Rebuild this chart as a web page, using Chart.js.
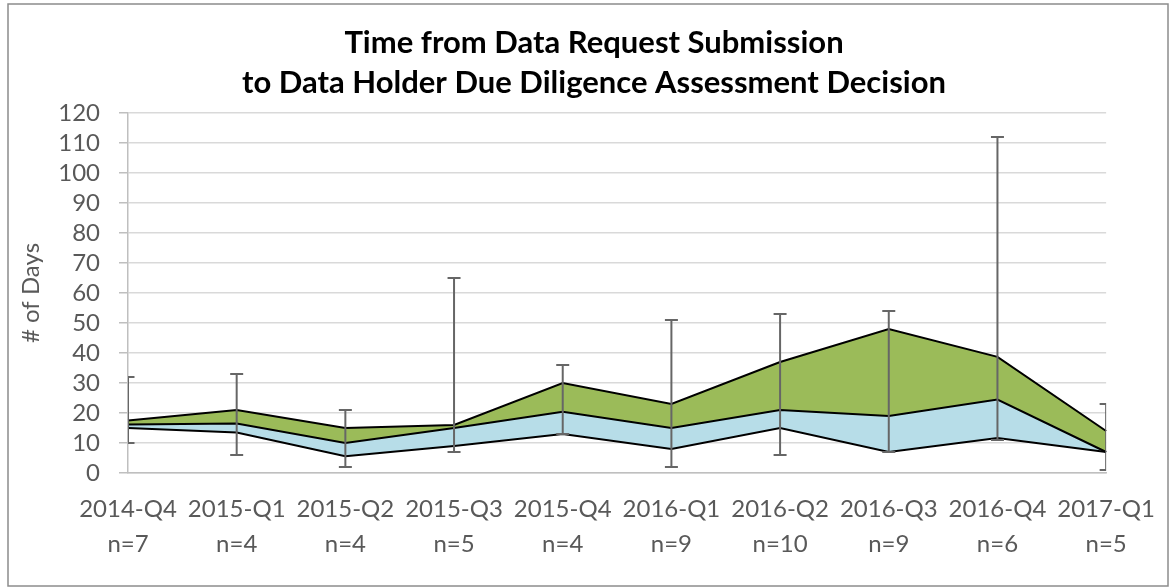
<!DOCTYPE html>
<html>
<head>
<meta charset="utf-8">
<script src="https://cdn.jsdelivr.net/npm/chart.js@4/dist/chart.umd.min.js"></script>
<style>
  html, body { margin: 0; padding: 0; background: #fff; }
  #wrap { width: 1174px; height: 587px; }
</style>
</head>
<body>
<div id="wrap"><canvas id="canvas" width="1174" height="587"></canvas></div>
<script>
const quarters = ["2014-Q4", "2015-Q1", "2015-Q2", "2015-Q3", "2015-Q4", "2016-Q1", "2016-Q2", "2016-Q3", "2016-Q4", "2017-Q1"];
const counts = ["n=7", "n=4", "n=4", "n=5", "n=4", "n=9", "n=10", "n=9", "n=6", "n=5"];

// quartiles per quarter (days)
const q1Days = [15, 13.5, 5.6, 9, 13, 8, 15, 7, 11.7, 7];
const medianDays = [16.2, 16.5, 10, 15, 20.4, 15, 21, 19, 24.5, 7];
const q3Days = [17.5, 21, 15, 16, 30, 23, 37, 48, 38.7, 14];
// whiskers (min / max)
const minDays = [10, 6, 2, 7, 13, 2, 6, 7, 11, 1];
const maxDays = [32, 33, 21, 65, 36, 51, 53, 54, 112, 23];

const titleLines = ["Time from Data Request Submission", "to Data Holder Due Diligence Assessment Decision"];

const fontFamily = "Lato, 'Open Sans', sans-serif";
const labelGrey = "#595959";

// multi-line x labels
const xLabels = quarters.map((q, i) => [q, counts[i]]);

// outer frame + title (title is centred on the frame, not on the plot)
const framePlugin = {
    id: "frame",
    beforeDraw(chart) {
        const c = chart.ctx;
        c.save();
        c.fillStyle = "#fff";
        c.fillRect(0, 0, chart.width, chart.height);
        c.strokeStyle = "#8c8c8c";
        c.lineWidth = 1.5;
        c.strokeRect(8, 4, chart.width - 14, chart.height - 5);

        c.fillStyle = "#000";
        c.font = "bold 31px " + fontFamily;
        c.textAlign = "center";
        c.textBaseline = "middle";
        titleLines.forEach((t, i) => c.fillText(t, 594, 43 + i * 40));
        c.restore();
    }
};

// min-max whiskers drawn on top of the bands
const whiskerPlugin = {
    id: "whiskers",
    afterDatasetsDraw(chart) {
        const c = chart.ctx;
        const x = chart.scales.x;
        const y = chart.scales.y;
        const area = chart.chartArea;
        c.save();
        c.beginPath();
        c.rect(area.left, area.top - 10, area.right - area.left, area.bottom - area.top + 20);
        c.clip();
        c.strokeStyle = "#666666";
        c.lineWidth = 2;
        for (let i = 0; i < quarters.length; i++) {
            const px = x.getPixelForValue(i);
            const top = y.getPixelForValue(maxDays[i]);
            const bot = y.getPixelForValue(minDays[i]);
            c.beginPath();
            c.moveTo(px, top);
            c.lineTo(px, bot);
            c.moveTo(px - 6.5, top);
            c.lineTo(px + 6.5, top);
            c.moveTo(px - 6.5, bot);
            c.lineTo(px + 6.5, bot);
            c.stroke();
        }
        c.restore();
    }
};

const lineStyle = {
    borderColor: "#000",
    borderWidth: 2,
    borderJoinStyle: "miter",
    pointRadius: 0,
    tension: 0
};

const ctx = document.getElementById("canvas").getContext("2d");
new Chart(ctx, {
    type: "line",
    data: {
        labels: xLabels,
        datasets: [
            { label: "Q1", data: q1Days, fill: false, ...lineStyle },
            { label: "Median", data: medianDays, fill: "-1", backgroundColor: "#b7dde8", ...lineStyle },
            { label: "Q3", data: q3Days, fill: "-1", backgroundColor: "#9bbb59", ...lineStyle }
        ]
    },
    plugins: [framePlugin, whiskerPlugin],
    options: {
        responsive: false,
        animation: false,
        layout: { padding: { left: 8, right: 59, top: 113, bottom: 1 } },
        plugins: {
            legend: { display: false },
            tooltip: { enabled: false },
            title: { display: false }
        },
        scales: {
            x: {
                type: "category",
                offset: false,
                grid: { display: false, drawTicks: false },
                border: { display: true, color: "#bfbfbf", width: 1.5 },
                ticks: {
                    color: labelGrey,
                    maxRotation: 0,
                    autoSkip: false,
                    padding: 19,
                    font: { family: fontFamily, size: 24, lineHeight: 1.45 }
                },
                afterFit(scale) { scale.height = 113; }
            },
            y: {
                min: 0,
                max: 120,
                ticks: {
                    stepSize: 10,
                    autoSkip: false,
                    color: labelGrey,
                    padding: 19,
                    font: { family: fontFamily, size: 24 }
                },
                grid: { color: "#d9d9d9", lineWidth: 1.5, tickLength: 9, tickColor: "#bfbfbf" },
                border: { display: true, color: "#bfbfbf", width: 1.5 },
                title: {
                    display: true,
                    text: "# of Days",
                    color: labelGrey,
                    font: { family: fontFamily, size: 24, lineHeight: 1.2 },
                    padding: { top: 9, bottom: 0 }
                },
                afterFit(scale) { scale.width = 120; }
            }
        }
    }
});
</script>
</body>
</html>
